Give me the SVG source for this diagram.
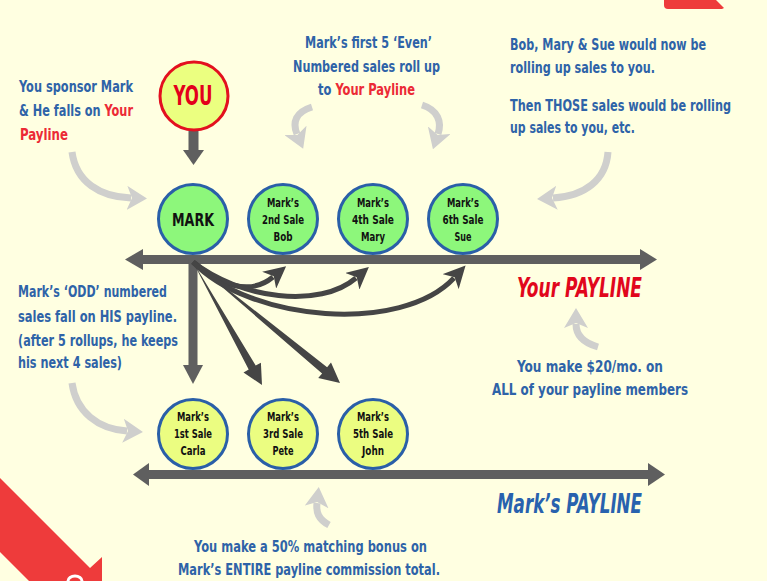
<svg xmlns="http://www.w3.org/2000/svg" width="767" height="581" viewBox="0 0 767 581">
<defs>
<style>
.t{font-family:"Liberation Sans Narrow","DejaVu Sans Condensed","Liberation Sans",sans-serif;font-weight:bold;font-size:15.5px;fill:#2E63A8}
.r{fill:#EC2A35}
.c{text-anchor:middle}
.n{font-family:"Liberation Sans Narrow","DejaVu Sans Condensed","Liberation Sans",sans-serif;font-weight:bold;font-size:12.5px;fill:#111;text-anchor:middle}
.g{fill:#8DF77B;stroke:#2A5FA8;stroke-width:3}
.y{fill:#EBFD81;stroke:#2A5FA8;stroke-width:3}
.sw{fill:none;stroke:#CFCFCD;stroke-width:7;marker-end:url(#gh)}
.dk{fill:none;stroke:#454545;stroke-width:5;marker-end:url(#dh)}
.bar{fill:#5F5F5F}
</style>
<marker id="gh" markerUnits="userSpaceOnUse" viewBox="0 0 20 24" markerWidth="20" markerHeight="24" refX="4" refY="12" orient="auto">
<path d="M0,0 L20,12 L0,24 L5,12 Z" fill="#CFCFCD"/>
</marker>
<marker id="dh" markerUnits="userSpaceOnUse" viewBox="0 0 22 22" markerWidth="22" markerHeight="22" refX="5" refY="11" orient="auto">
<path d="M0,0 L22,11 L0,22 L6,11 Z" fill="#454545"/>
</marker>
</defs>
<rect width="767" height="581" fill="#FFFFE1"/>
<path d="M664,0 L716,0 L724,8 L722,9 L668,9 Q664,9 664,5 Z" fill="#EE3B3B"/>
<path d="M0,478 L90,568 L102,557 L102,581 L29,581 L0,552 Z" fill="#EE3B3B"/>
<path d="M68,581 A7,5 0 0 1 82,581" fill="none" stroke="#fff" stroke-width="3"/>

<g id="connectors">
<rect class="bar" x="140" y="255" width="503" height="9"/>
<polygon class="bar" points="143,249 125,259.5 143,270"/>
<polygon class="bar" points="640,249 657,259.5 640,270"/>
<rect class="bar" x="146" y="470" width="504" height="9"/>
<polygon class="bar" points="149,463 133,474.5 149,486"/>
<polygon class="bar" points="648,463 665,474.5 648,486"/>
<rect class="bar" x="188.5" y="131" width="10" height="20"/>
<polygon class="bar" points="183,150 204,150 193.5,165"/>
<rect class="bar" x="188.5" y="259" width="9" height="107"/>
<polygon class="bar" points="183,365 203,365 193,384"/>
<polygon fill="#454545" points="193,262 255.7,365.6 260.9,362.7 262,385 243.5,372.5 248.7,369.6"/>
<polygon fill="#454545" points="193,262 327.1,367.2 331,362.6 340,383 318.2,378 322.1,373.4"/>
<path class="dk" d="M193,262 C222,286 250,296 273,277"/>
<path class="dk" d="M193,262 C240,299 320,309 356,278"/>
<path class="dk" d="M193,262 C250,322 402,334 454,278"/>
<path class="sw" d="M72,152 C76,182 100,197 131,198"/>
<path class="sw" d="M312,107 C296,112 292,122 297,134"/>
<path class="sw" d="M422,105 C438,110 442,122 438,134"/>
<path class="sw" d="M608,152 C606,180 585,196 553,198"/>
<path class="sw" d="M598,347 C584,343 576,336 576,324"/>
<path class="sw" d="M72,383 C76,412 98,429 127,431"/>
<path class="sw" d="M329,525 C318,519 316,512 317,503"/>
</g>

<g id="you">
<circle cx="194" cy="96" r="34" fill="#EBFF80" stroke="#E3101F" stroke-width="3"/>
<text x="193" y="105" class="c" textLength="39" lengthAdjust="spacingAndGlyphs" style="font-family:'Liberation Sans Narrow','DejaVu Sans Condensed','Liberation Sans',sans-serif;font-weight:bold;font-size:26px;fill:#E3001B">YOU</text>
</g>
<g id="mark">
<circle class="g" cx="193" cy="219" r="34.5"/>
<text x="193" y="226" class="n" style="font-size:17px" textLength="42" lengthAdjust="spacingAndGlyphs">MARK</text>
</g>
<g id="bob">
<circle class="g" cx="283" cy="219" r="34.5"/>
<text class="n" x="283" y="207" textLength="32" lengthAdjust="spacingAndGlyphs">Mark’s</text><text class="n" x="283" y="224" textLength="42" lengthAdjust="spacingAndGlyphs">2nd Sale</text><text class="n" x="283" y="241" textLength="19" lengthAdjust="spacingAndGlyphs">Bob</text>
</g>
<g id="mary">
<circle class="g" cx="373" cy="219" r="34.5"/>
<text class="n" x="373" y="207" textLength="32" lengthAdjust="spacingAndGlyphs">Mark’s</text><text class="n" x="373" y="224" textLength="42" lengthAdjust="spacingAndGlyphs">4th Sale</text><text class="n" x="373" y="241" textLength="24" lengthAdjust="spacingAndGlyphs">Mary</text>
</g>
<g id="sue">
<circle class="g" cx="463" cy="219" r="34.5"/>
<text class="n" x="463" y="207" textLength="32" lengthAdjust="spacingAndGlyphs">Mark’s</text><text class="n" x="463" y="224" textLength="41" lengthAdjust="spacingAndGlyphs">6th Sale</text><text class="n" x="463" y="241" textLength="17" lengthAdjust="spacingAndGlyphs">Sue</text>
</g>
<g id="carla">
<circle class="y" cx="193" cy="434" r="34.5"/>
<text class="n" x="193" y="421" textLength="32" lengthAdjust="spacingAndGlyphs">Mark’s</text><text class="n" x="193" y="438" textLength="38" lengthAdjust="spacingAndGlyphs">1st Sale</text><text class="n" x="193" y="455" textLength="25" lengthAdjust="spacingAndGlyphs">Carla</text>
</g>
<g id="pete">
<circle class="y" cx="283" cy="434" r="34.5"/>
<text class="n" x="283" y="421" textLength="32" lengthAdjust="spacingAndGlyphs">Mark’s</text><text class="n" x="283" y="438" textLength="40" lengthAdjust="spacingAndGlyphs">3rd Sale</text><text class="n" x="283" y="455" textLength="21" lengthAdjust="spacingAndGlyphs">Pete</text>
</g>
<g id="john">
<circle class="y" cx="373" cy="434" r="34.5"/>
<text class="n" x="373" y="421" textLength="32" lengthAdjust="spacingAndGlyphs">Mark’s</text><text class="n" x="373" y="438" textLength="40" lengthAdjust="spacingAndGlyphs">5th Sale</text><text class="n" x="373" y="455" textLength="22" lengthAdjust="spacingAndGlyphs">John</text>
</g>

<g id="labels">
<text class="t" x="19" y="92" textLength="114" lengthAdjust="spacingAndGlyphs">You sponsor Mark</text>
<text class="t" x="19" y="116" textLength="114" lengthAdjust="spacingAndGlyphs">&amp; He falls on <tspan class="r">Your</tspan></text>
<text class="t r" x="20" y="140" textLength="48" lengthAdjust="spacingAndGlyphs">Payline</text>

<text class="t" x="305" y="48" textLength="127" lengthAdjust="spacingAndGlyphs">Mark’s first 5 ‘Even’</text>
<text class="t" x="293" y="72" textLength="147" lengthAdjust="spacingAndGlyphs">Numbered sales roll up</text>
<text class="t" x="318" y="95" textLength="97" lengthAdjust="spacingAndGlyphs">to <tspan class="r">Your Payline</tspan></text>

<text class="t" x="510" y="50" textLength="196" lengthAdjust="spacingAndGlyphs">Bob, Mary &amp; Sue would now be</text>
<text class="t" x="510" y="73" textLength="145" lengthAdjust="spacingAndGlyphs">rolling up sales to you.</text>
<text class="t" x="510" y="111" textLength="221" lengthAdjust="spacingAndGlyphs">Then THOSE sales would be rolling</text>
<text class="t" x="510" y="133" textLength="125" lengthAdjust="spacingAndGlyphs">up sales to you, etc.</text>

<text class="t" x="18" y="297" textLength="149" lengthAdjust="spacingAndGlyphs">Mark’s ‘ODD’ numbered</text>
<text class="t" x="18" y="322" textLength="159" lengthAdjust="spacingAndGlyphs">sales fall on HIS payline.</text>
<text class="t" x="18" y="346" textLength="160" lengthAdjust="spacingAndGlyphs">(after 5 rollups, he keeps</text>
<text class="t" x="18" y="368" textLength="104" lengthAdjust="spacingAndGlyphs">his next 4 sales)</text>

<text x="517" y="297" textLength="125" lengthAdjust="spacingAndGlyphs" style="font-family:'Liberation Sans Narrow','DejaVu Sans Condensed','Liberation Sans',sans-serif;font-weight:bold;font-style:italic;font-size:26px;fill:#E1061C">Your PAYLINE</text>
<text class="t" x="517" y="372" textLength="146" lengthAdjust="spacingAndGlyphs">You make $20/mo. on</text>
<text class="t" x="492" y="395" textLength="196" lengthAdjust="spacingAndGlyphs">ALL of your payline members</text>

<text x="497" y="513" textLength="145" lengthAdjust="spacingAndGlyphs" style="font-family:'Liberation Sans Narrow','DejaVu Sans Condensed','Liberation Sans',sans-serif;font-weight:bold;font-style:italic;font-size:26px;fill:#2862AE">Mark’s PAYLINE</text>
<text class="t" x="194" y="552" textLength="233" lengthAdjust="spacingAndGlyphs">You make a 50% matching bonus on</text>
<text class="t" x="178" y="575" textLength="262" lengthAdjust="spacingAndGlyphs">Mark’s ENTIRE payline commission total.</text>
</g>
</svg>
